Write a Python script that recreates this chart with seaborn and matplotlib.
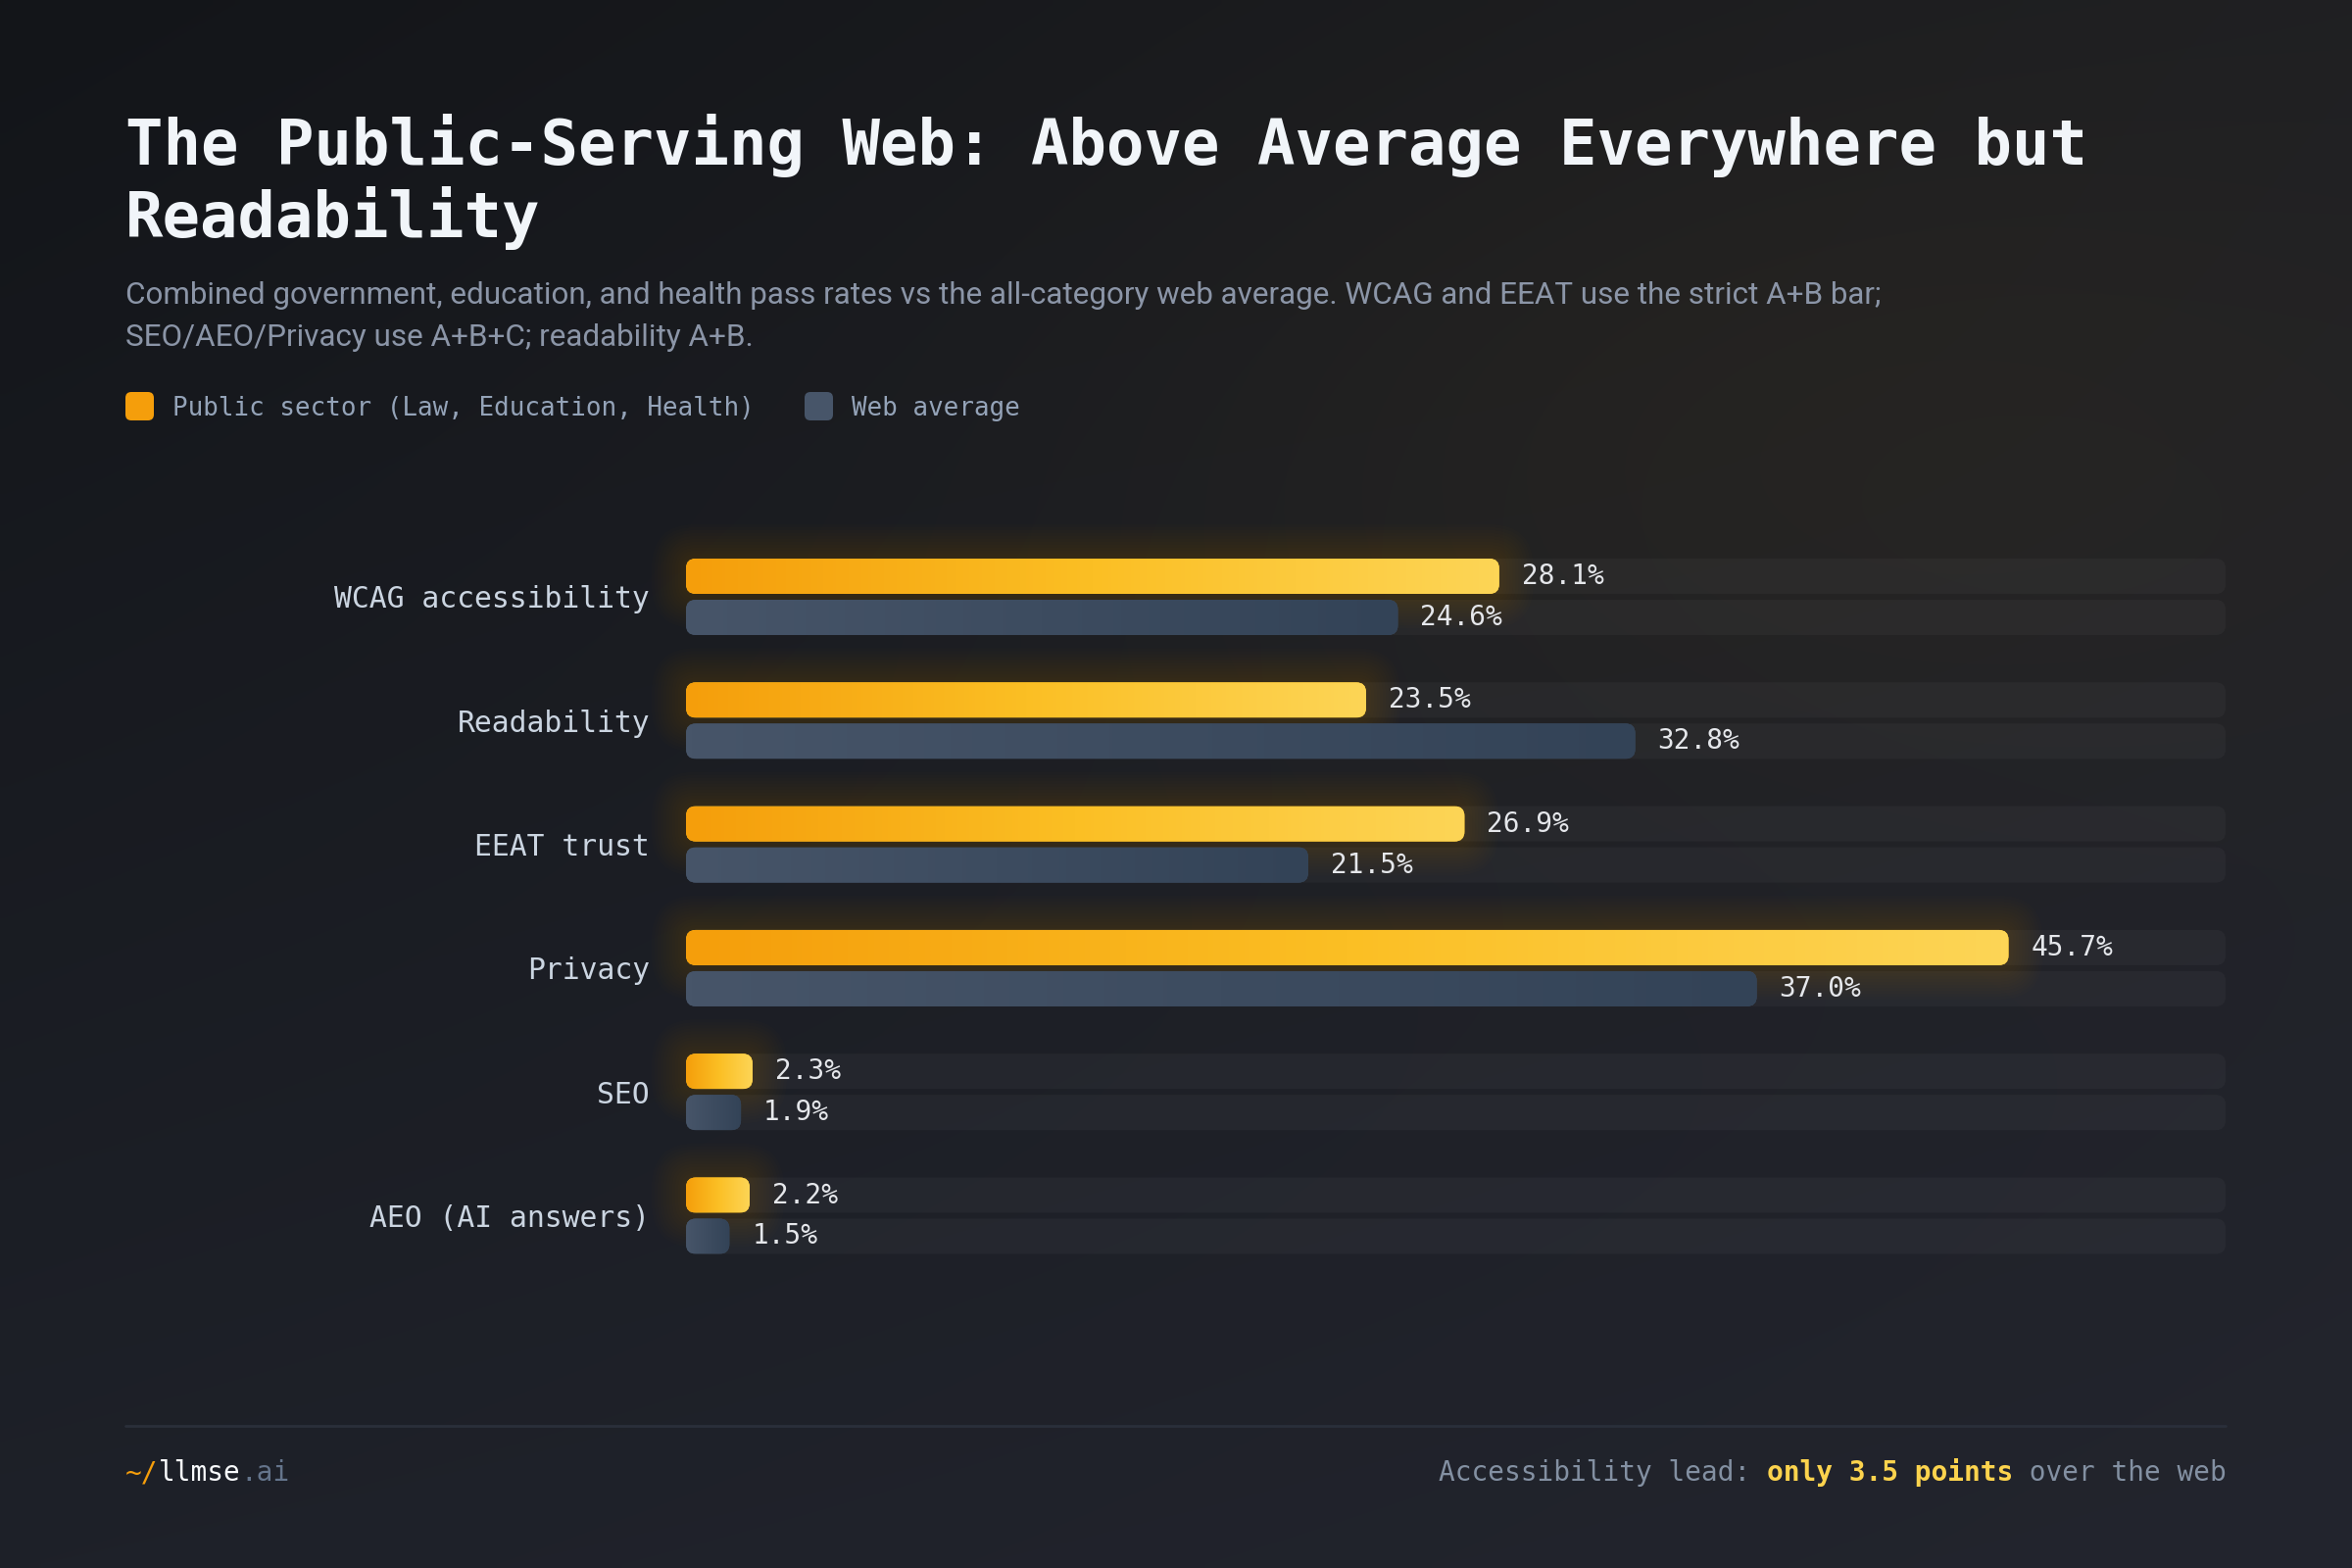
import numpy as np
import pandas as pd
import matplotlib
matplotlib.use('Agg')
import matplotlib.pyplot as plt
import seaborn as sns
from matplotlib.patches import FancyBboxPatch
from matplotlib.colors import LinearSegmentedColormap

# data
categories = ['WCAG accessibility', 'Readability', 'EEAT trust', 'Privacy', 'SEO', 'AEO (AI answers)']
public_sector = [28.1, 23.5, 26.9, 45.7, 2.3, 2.2]
web_average = [24.6, 32.8, 21.5, 37.0, 1.9, 1.5]
series_names = ['Public sector (Law, Education, Health)', 'Web average']

df = pd.DataFrame({
    'category': categories * 2,
    'series': [series_names[0]] * len(categories) + [series_names[1]] * len(categories),
    'value': public_sector + web_average,
})

W, H, DPI = 2400, 1600, 200
MONO = 'DejaVu Sans Mono'
ADV = 0.602 * DPI / 72   # monospace advance per pt of font size, in px

sns.set_theme(style='white')
plt.rcParams['font.family'] = [MONO, 'DejaVu Sans']

fig = plt.figure(figsize=(W / DPI, H / DPI), dpi=DPI)

# background axes, in pixel units (y down)
bg = fig.add_axes([0, 0, 1, 1])
bg.set_xlim(0, W)
bg.set_ylim(H, 0)
bg.axis('off')
yy, xx = np.mgrid[0:H:8, 0:W:8]
u = (xx / W)[..., None]
v = (yy / H)[..., None]
tl, tr = np.array([19, 21, 25]), np.array([30, 31, 35])
bl, br = np.array([30, 33, 41]), np.array([35, 37, 46])
img = tl * (1 - u) * (1 - v) + tr * u * (1 - v) + bl * (1 - u) * v + br * u * v
warm = np.exp(-(((xx - 1850) / 750) ** 2 + ((yy - 430) / 400) ** 2))
img = img + warm[..., None] * np.array([8, 5, -2])
bg.imshow(np.clip(img / 255, 0, 1), extent=[0, W, H, 0], aspect='auto',
          interpolation='bilinear', zorder=0)

# chart axes
x_max = 53.2
left_px, right_px = 700, 2271
top_px, bot_px = 545.85, 1303.65
ax = fig.add_axes([left_px / W, 1 - bot_px / H, (right_px - left_px) / W, (bot_px - top_px) / H])
ax.patch.set_alpha(0)

sns.barplot(data=df, y='category', x='value', hue='series', orient='h',
            width=0.665, gap=0.143, palette=['#f59e0b', '#475569'],
            errorbar=None, legend=False, ax=ax)
ax.set_xlim(0, x_max)
ax.set_ylim(len(categories) - 0.5, -0.5)
ax.set_autoscale_on(False)

sx = (right_px - left_px) / x_max
sy = (bot_px - top_px) / len(categories)
aspect = sx / sy
r_px = 10

orange_cmap = LinearSegmentedColormap.from_list('o', ['#f59e0b', '#fbbf24', '#fdd556'])
slate_cmap = LinearSegmentedColormap.from_list('s', ['#475569', '#334357'])
grad = np.linspace(0, 1, 256)[None, :]


def rbox(x, y, w, h, pad_px=0, **kw):
    return FancyBboxPatch((x, y), w, h,
                          boxstyle=f'round,pad={pad_px / sx},rounding_size={(r_px + pad_px) / sx}',
                          mutation_aspect=aspect, ec='none', clip_on=False, **kw)


for i, cont in enumerate(ax.containers):
    cmap = orange_cmap if i == 0 else slate_cmap
    for rect in cont:
        x0, y0, w, h = rect.get_x(), rect.get_y(), rect.get_width(), rect.get_height()
        rect.set_visible(False)
        ax.add_patch(rbox(0, y0, x_max, h, fc='white', alpha=0.035, zorder=1))
        if i == 0:
            for p in range(2, 38, 3):
                ax.add_patch(rbox(x0, y0, w, h, pad_px=p, fc='#f59e0b', alpha=0.011, zorder=2))
        bar = rbox(x0, y0, w, h, fc=cmap(0.5), zorder=3)
        ax.add_patch(bar)
        im = ax.imshow(grad, extent=[x0, x0 + w, y0 + h, y0], aspect='auto',
                       cmap=cmap, interpolation='bilinear', zorder=4)
        im.set_clip_path(bar)
        ax.text(x0 + w + 23 / sx, y0 + h / 2, f'{w:.1f}%', va='center', ha='left',
                fontsize=10, color='#e5e7eb', zorder=5)

ax.set_xlim(0, x_max)
ax.set_ylim(len(categories) - 0.5, -0.5)
ax.set_xticks([])
ax.set_xlabel('')
ax.set_ylabel('')
ax.tick_params(axis='y', length=0, pad=13.3, labelsize=10.7, labelcolor='#cbd5e1')
sns.despine(ax=ax, left=True, bottom=True)

# title and subtitle
bg.text(128, 168, 'The Public-Serving Web: Above Average Everywhere but', fontsize=23,
        fontweight='bold', color='#f1f5f9', va='baseline', ha='left')
bg.text(128, 242, 'Readability', fontsize=23, fontweight='bold', color='#f1f5f9',
        va='baseline', ha='left')
sub_font = ['Roboto', 'DejaVu Sans']
bg.text(128, 310, 'Combined government, education, and health pass rates vs the all-category '
        'web average. WCAG and EEAT use the strict A+B bar;', family=sub_font, fontsize=11.3,
        color='#8b95a7', va='baseline', ha='left')
bg.text(128, 353, 'SEO/AEO/Privacy use A+B+C; readability A+B.', family=sub_font, fontsize=11.3,
        color='#8b95a7', va='baseline', ha='left')

# legend
for sq_x, txt_x, col, name in [(128, 176, '#f59e0b', series_names[0]),
                               (821, 869, '#475569', series_names[1])]:
    bg.add_patch(FancyBboxPatch((sq_x, 400), 29, 29, boxstyle='round,pad=0,rounding_size=6',
                                fc=col, ec='none', zorder=3))
    bg.text(txt_x, 424, name, fontsize=9.3, color='#94a3b8', va='baseline', ha='left', zorder=3)

# footer
bg.plot([128, 2271], [1455, 1455], color='#2a2f3a', lw=1, zorder=2)


def segments(x, y, parts, fs):
    for s, col, wt in parts:
        bg.text(x, y, s, fontsize=fs, color=col, fontweight=wt, va='baseline', ha='left', zorder=3)
        x += len(s) * ADV * fs


segments(128, 1511, [('~/', '#f59e0b', 'normal'), ('llmse', '#f8fafc', 'normal'),
                     ('.ai', '#64748b', 'normal')], 10)
right_parts = [('Accessibility lead: ', '#8390a2', 'normal'),
               ('only 3.5 points', '#fcd34d', 'bold'),
               (' over the web', '#8390a2', 'normal')]
n_chars = sum(len(p[0]) for p in right_parts)
segments(2271 - n_chars * ADV * 10, 1511, right_parts, 10)

fig.savefig('out.png', dpi=DPI)
